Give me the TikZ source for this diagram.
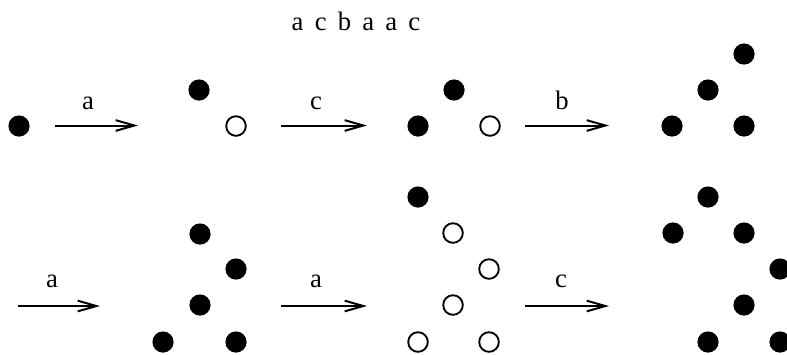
\documentclass[tikz,border=0pt]{standalone}
\usepackage{fontspec}
\setmainfont{Liberation Serif}
\usetikzlibrary{arrows.meta}

\begin{document}
\begin{tikzpicture}[x=0.75pt, y=-0.75pt,
    full/.style={circle, fill=black, inner sep=0pt, minimum size=15.9pt},
    hollow/.style={circle, draw=black, line width=1.4pt, fill=white, inner sep=0pt, minimum size=14.7pt},
    move/.style={-{Straight Barb[length=14pt, width=8pt]}, line width=1.5pt},
    lbl/.style={anchor=base, inner sep=0pt, font=\fontsize{20}{24}\selectfont}]

    \useasboundingbox (0,0) rectangle (787,354);

    % word
    \node[lbl] (word) at (356,30) {\spaceskip=8.4pt a c b a a c};

    % top row
    \node[full] (A1) at (19,126) {};

    \node[full] (B1) at (199,90) {};
    \node[hollow] (B2) at (236,126) {};

    \node[full] (C1) at (418,126) {};
    \node[full] (C2) at (454,90) {};
    \node[hollow] (C3) at (490,126) {};

    \node[full] (D1) at (672,126) {};
    \node[full] (D2) at (708,90) {};
    \node[full] (D3) at (744,54) {};
    \node[full] (D4) at (744,126) {};

    % bottom row
    \node[full] (E1) at (200,234) {};
    \node[full] (E2) at (236,269) {};
    \node[full] (E3) at (200,305) {};
    \node[full] (E4) at (163,342) {};
    \node[full] (E5) at (236,342) {};

    \node[full] (F1) at (418,197) {};
    \node[hollow] (F2) at (453,233) {};
    \node[hollow] (F3) at (489,269) {};
    \node[hollow] (F4) at (453,305) {};
    \node[hollow] (F5) at (418,342) {};
    \node[hollow] (F6) at (489,342) {};

    \node[full] (G1) at (708,197) {};
    \node[full] (G2) at (673,233) {};
    \node[full] (G3) at (744,233) {};
    \node[full] (G4) at (780,269) {};
    \node[full] (G5) at (744,305) {};
    \node[full] (G6) at (708,342) {};
    \node[full] (G7) at (780,342) {};

    % arrow ends
    \coordinate (s1) at (55,125.5);  \coordinate (e1) at (138,125.5);
    \coordinate (s2) at (281,125.5); \coordinate (e2) at (367,125.5);
    \coordinate (s3) at (525,125.5); \coordinate (e3) at (609,125.5);
    \coordinate (s4) at (18,306);    \coordinate (e4) at (100,306);
    \coordinate (s5) at (281,306);   \coordinate (e5) at (367,306);
    \coordinate (s6) at (525,306);   \coordinate (e6) at (609,306);

    \draw[move] (s1) -- (e1);
    \draw[move] (s2) -- (e2);
    \draw[move] (s3) -- (e3);
    \draw[move] (s4) -- (e4);
    \draw[move] (s5) -- (e5);
    \draw[move] (s6) -- (e6);

    \node[lbl] (l1) at (88,109) {a};
    \node[lbl] (l2) at (316,109) {c};
    \node[lbl] (l3) at (562,109) {b};
    \node[lbl] (l4) at (52,287) {a};
    \node[lbl] (l5) at (316,287) {a};
    \node[lbl] (l6) at (561,287) {c};
\end{tikzpicture}
\end{document}
